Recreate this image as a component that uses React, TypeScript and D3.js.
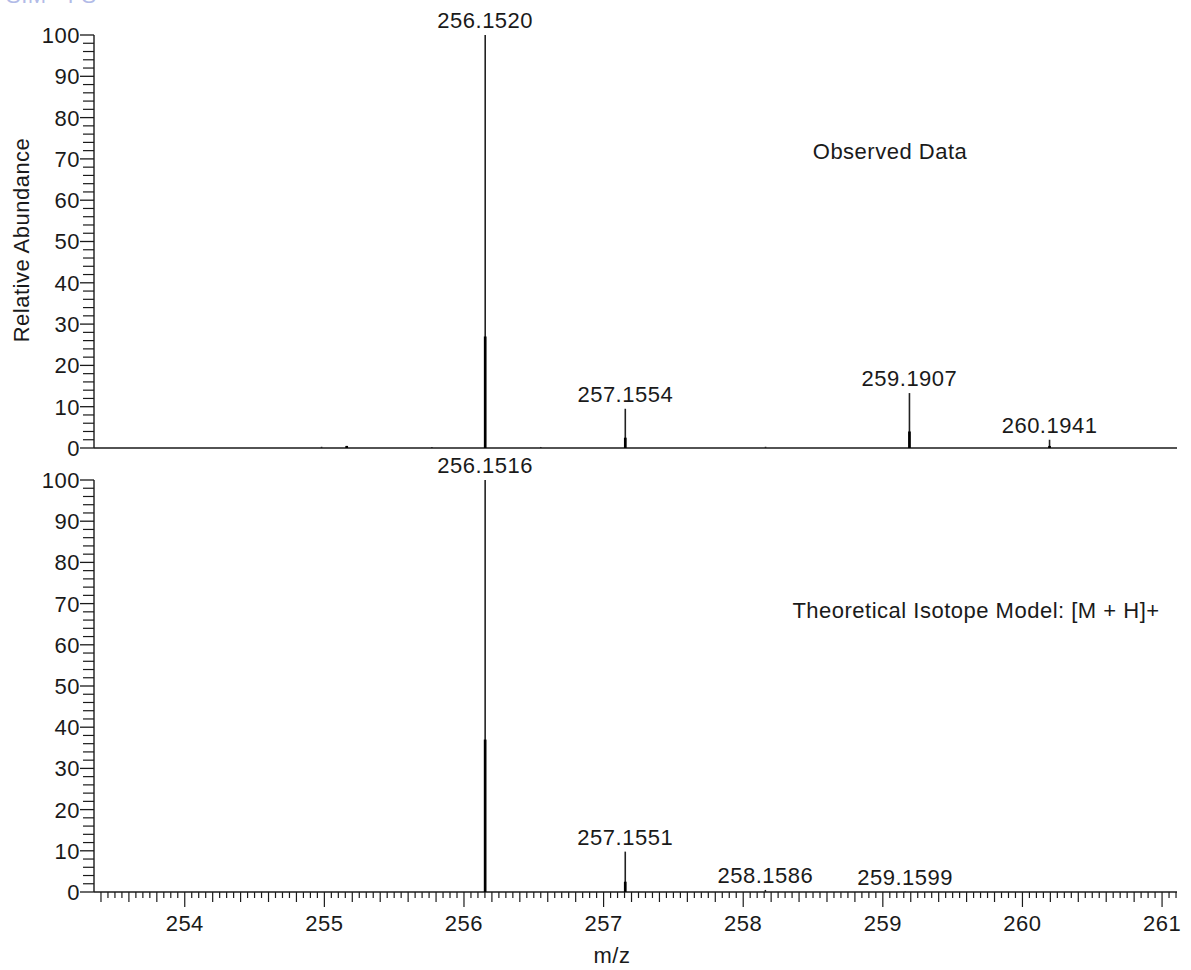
import React from "react";
import * as d3 from "d3";

// ---- data ----
const obsMz = [254.98, 255.16, 255.77, 256.152, 256.55, 257.1554, 258.16, 259.1907, 260.1941];
const obsInt = [0.3, 0.5, 0.25, 100, 0.25, 9.5, 0.3, 13.3, 2.0];
const obsCore = [0, 0.5, 0, 27, 0, 2.5, 0, 4, 0.5];
const obsLabels = ["", "", "", "256.1520", "", "257.1554", "", "259.1907", "260.1941"];

const theoMz = [256.1516, 257.1551, 258.1586, 259.1599];
const theoInt = [100, 9.8, 0.5, 0.1];
const theoCore = [37, 2.5, 0, 0];
const theoLabels = ["256.1516", "257.1551", "258.1586", "259.1599"];

const xMajorTicks = [254, 255, 256, 257, 258, 259, 260, 261];
const yMajorTicks = [0, 10, 20, 30, 40, 50, 60, 70, 80, 90, 100];

const W = 1191;
const H = 970;
const FONT = "'Liberation Sans', Arial, Helvetica, sans-serif";
const AX = "#1a1a1a";

const x = d3.scaleLinear().domain([253.35, 261.107]).range([94, 1177]);
const yTop = d3.scaleLinear().domain([0, 100]).range([448, 35]);
const yBot = d3.scaleLinear().domain([0, 100]).range([892, 480]);

const textStyle: React.CSSProperties = {
  fontFamily: FONT,
  fontSize: 22,
  letterSpacing: "0.5px",
  fill: "#1a1a1a",
};

function YAxis({ y }: { y: d3.ScaleLinear<number, number> }) {
  const minors = d3.range(0, 101, 2).filter((v) => v % 10 !== 0);
  return (
    <g>
      <line x1={94} x2={94} y1={y(100)} y2={y(0)} stroke={AX} strokeWidth={1.4} />
      {yMajorTicks.map((t) => (
        <g key={"M" + t}>
          <line x1={80} x2={94} y1={y(t)} y2={y(t)} stroke={AX} strokeWidth={1.3} />
          <text x={80} y={y(t)} dy="0.36em" textAnchor="end" style={textStyle}>
            {t}
          </text>
        </g>
      ))}
      {minors.map((t) => (
        <line key={"m" + t} x1={83} x2={94} y1={y(t)} y2={y(t)} stroke={AX} strokeWidth={1.2} />
      ))}
    </g>
  );
}

function Peaks({
  mz,
  inten,
  core,
  labels,
  y,
}: {
  mz: number[];
  inten: number[];
  core: number[];
  labels: string[];
  y: d3.ScaleLinear<number, number>;
}) {
  return (
    <g>
      {mz.map((m, i) => (
        <g key={i}>
          <line x1={x(m)} x2={x(m)} y1={y(0)} y2={y(inten[i])} stroke="#222" strokeWidth={1.6} />
          {core[i] > 0 && (
            <line x1={x(m)} x2={x(m)} y1={y(0)} y2={y(core[i])} stroke="#000" strokeWidth={2.7} />
          )}
          {labels[i] && (
            <text x={x(m)} y={y(inten[i]) - 7} textAnchor="middle" style={textStyle}>
              {labels[i]}
            </text>
          )}
        </g>
      ))}
    </g>
  );
}

export default function App() {
  const minorX = d3.range(253.4, 261.11, 0.05).map((v) => Math.round(v * 100) / 100);
  return (
    <svg
      width={W}
      height={H}
      viewBox={`0 0 ${W} ${H}`}
      style={{ position: "absolute", left: 0, top: 0, background: "#fff" }}
    >
      <rect x={0} y={0} width={W} height={H} fill="#fff" />
      <text x={6} y={3} style={{ ...textStyle, fill: "#7f8fd8", opacity: 0.6 }}>
        SIM - FS
      </text>

      {/* top panel */}
      <YAxis y={yTop} />
      <line x1={94} x2={1177} y1={yTop(0)} y2={yTop(0)} stroke={AX} strokeWidth={1.4} />
      <Peaks mz={obsMz} inten={obsInt} core={obsCore} labels={obsLabels} y={yTop} />
      <text x={890} y={yTop(70)} textAnchor="middle" style={textStyle}>
        Observed Data
      </text>

      {/* bottom panel */}
      <YAxis y={yBot} />
      <line x1={94} x2={1177} y1={yBot(0)} y2={yBot(0)} stroke={AX} strokeWidth={1.4} />
      {minorX.map((v) => {
        const r = Math.round(v * 100);
        const isMajor = r % 100 === 0;
        const isMed = !isMajor && r % 20 === 0;
        const len = isMajor ? 15 : isMed ? 10 : 6;
        return (
          <line
            key={"x" + r}
            x1={x(v)}
            x2={x(v)}
            y1={yBot(0)}
            y2={yBot(0) + len}
            stroke={AX}
            strokeWidth={1.2}
          />
        );
      })}
      {xMajorTicks.map((t) => (
        <text key={"xl" + t} x={x(t)} y={931} textAnchor="middle" style={textStyle}>
          {t}
        </text>
      ))}
      <Peaks mz={theoMz} inten={theoInt} core={theoCore} labels={theoLabels} y={yBot} />
      <text x={976} y={yBot(66.5)} textAnchor="middle" style={textStyle}>
        Theoretical Isotope Model: [M + H]+
      </text>

      {/* axis titles */}
      <text x={612} y={963} textAnchor="middle" style={textStyle}>
        m/z
      </text>
      <text
        transform={`translate(29, 240) rotate(-90)`}
        textAnchor="middle"
        style={textStyle}
      >
        Relative Abundance
      </text>
    </svg>
  );
}
